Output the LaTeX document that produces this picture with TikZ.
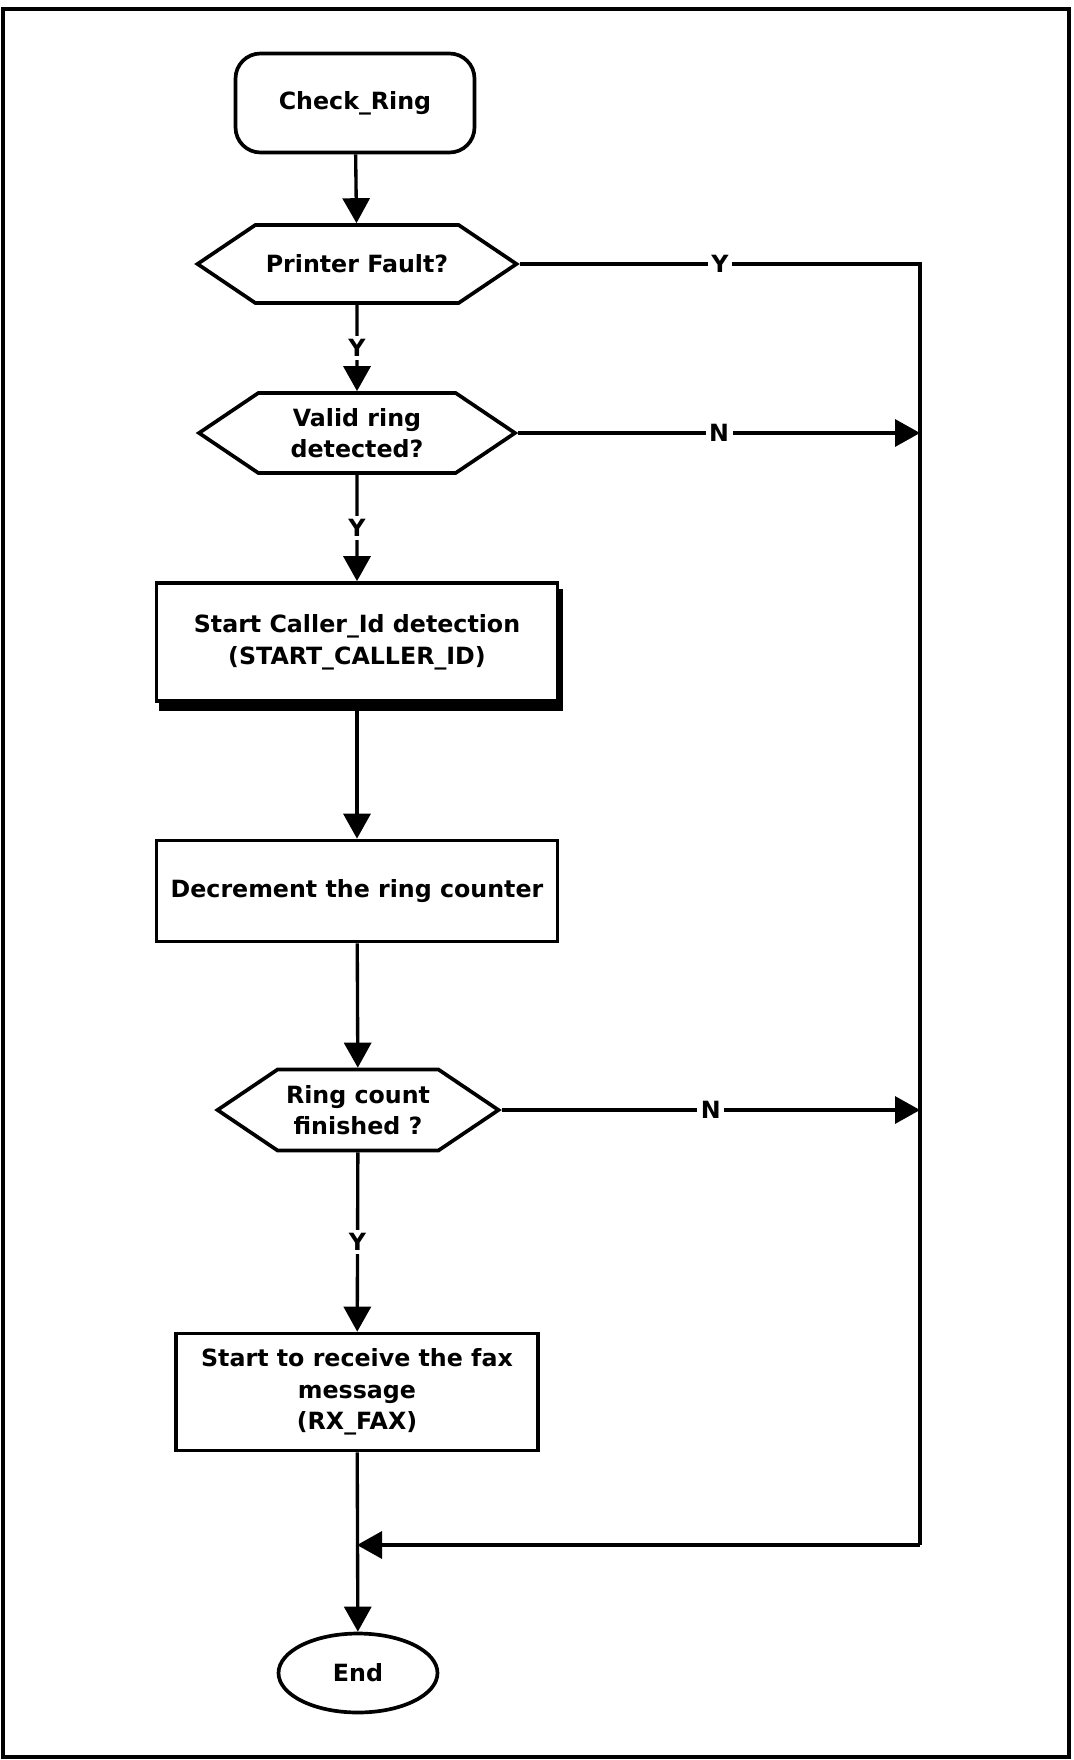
\documentclass[tikz,border=0pt]{standalone}
\usepackage{fontspec}
\setmainfont{DejaVu Sans}
\usetikzlibrary{arrows.meta,shapes.geometric,shapes.symbols,backgrounds}

\begin{document}
\begin{tikzpicture}[x=0.02cm,y=-0.02cm,
    every node/.style={font=\bfseries\fontsize{13.5}{18}\selectfont, align=center},
    box/.style={draw, fill=white, line width=2.1pt, rectangle, inner sep=2pt},
    hexa/.style={draw, line width=2.1pt, shape=signal, signal to=east and west, signal pointer angle=68, inner sep=2pt},
    flow/.style={line width=1.9pt, -{Triangle[length=0.5cm,width=0.54cm]}},
    lbl/.style={fill=white, inner sep=2pt}]
  \useasboundingbox (0,0) rectangle (1074,1760);
  \draw[line width=2.5pt] (3,9) rectangle (1069,1757);
  % boxes
  \node[box, rounded corners=0.5cm, minimum width=4.78cm, minimum height=1.98cm] (ring) at (355,103) {Check\_Ring};
  \node[hexa, minimum width=6.38cm, minimum height=1.56cm] (fault) at (357,264) {Printer Fault?};
  \node[hexa, minimum width=6.32cm, minimum height=1.6cm] (valid) at (357,433) {Valid ring\\detected?};
  \node[box, minimum width=8.02cm, minimum height=2.36cm] (caller) at (357,642)
        {Start Caller\_Id detection\\(START\_CALLER\_ID)};
  \node[box, minimum width=8.02cm, minimum height=2.02cm] (decr) at (357,891) {Decrement the ring counter};
  \node[hexa, minimum width=5.62cm, minimum height=1.62cm] (count) at (358,1110) {Ring count\\finished ?};
  \node[box, minimum width=7.24cm, minimum height=2.34cm] (fax) at (357,1392) {Start to receive the fax\\message\\(RX\_FAX)};
  \node[ellipse, draw, line width=2.1pt, minimum width=3.18cm, minimum height=1.58cm] (stop) at (358,1673) {End};
  % shadow under the caller id box
  \begin{scope}[on background layer]
    \fill ([shift={(4,8)}]caller.north west) rectangle ([shift={(4,8)}]caller.south east);
  \end{scope}
  % right rail
  \coordinate (rtop) at (920,264);
  \coordinate (rbot) at (920,1545);
  \coordinate (merge) at (357,1545);
  % connectors
  \draw[flow] (ring) -- (fault);
  \draw[flow] (fault) -- node[lbl]{Y} (valid);
  \draw[flow] (valid) -- node[lbl]{Y} (caller);
  \draw[flow] (caller) -- (decr);
  \draw[flow] (decr) -- (count);
  \draw[flow] (count) -- node[lbl]{Y} (fax);
  \draw[flow] (fax) -- (stop);
  \draw[line width=1.9pt] (fault.east) -- node[lbl]{Y} (rtop) -- (rbot);
  \draw[flow] (valid.east) -- node[lbl]{N} (valid.east -| rtop);
  \draw[flow] (count.east) -- node[lbl]{N} (count.east -| rtop);
  \draw[flow] (rbot) -- (merge);
\end{tikzpicture}
\end{document}
